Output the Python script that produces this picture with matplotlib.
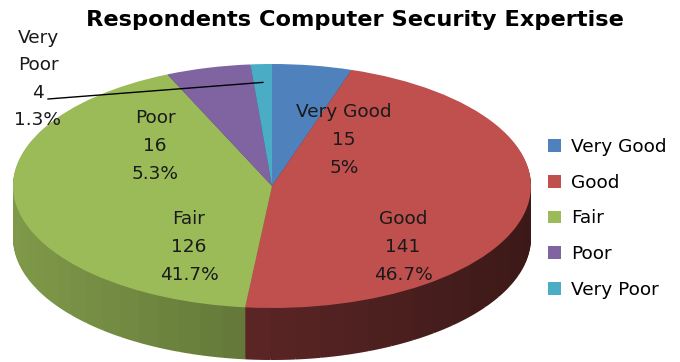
import matplotlib
matplotlib.use("Agg")
import matplotlib.pyplot as plt
import numpy as np
from matplotlib.patches import Patch

# Survey results
categories = ["Very Good", "Good", "Fair", "Poor", "Very Poor"]
counts = [15, 141, 126, 16, 4]
percent_labels = ["5%", "46.7%", "41.7%", "5.3%", "1.3%"]
colors = ["#4F81BD", "#C0504D", "#9BBB59", "#8064A2", "#4BACC6"]
side_strength = [0.9, 0.74, 1.0, 0.9, 0.9]

title = "Respondents Computer Security Expertise"

W, H = 680, 362
fig = plt.figure(figsize=(W / 100, H / 100), dpi=100)
ax = fig.add_axes([0, 0, 1, 1])
ax.set_axis_off()

# pie geometry (pixels): centre, horizontal radius, vertical radius, wall depth
cx, cy = 272, 186
rx, ry = 259, 122
depth = 52
squash = ry / rx


def ydata(py):
    """Pixel row (from top) to data y in the squashed axes."""
    return (H - py) / squash


def fig_xy(px, py):
    return px / W, 1 - py / H


# split every slice into thin sub-wedges so the wall can be shaded by angle
n_sub = 30
sub_vals, sub_cols = [], []
total = float(sum(counts))
start = 0.0
for v, c, k in zip(counts, colors, side_strength):
    base = np.array(matplotlib.colors.to_rgb(c))
    for j in range(n_sub):
        frac0 = start + v * (j + 0.5) / n_sub
        theta = 2 * np.pi * frac0 / total  # clockwise from 12 o'clock
        x = np.sin(theta)
        f = (0.62 - 0.2 * x) * k
        sub_vals.append(v / n_sub)
        sub_cols.append(np.clip(base * f, 0, 1))
    start += v

for d in range(depth, 0, -1):
    ax.pie(sub_vals, colors=sub_cols, startangle=90, counterclock=False,
           radius=rx, center=(cx, ydata(cy + d)), frame=True,
           wedgeprops=dict(linewidth=0.6, edgecolor="none", antialiased=True))

# top face
wedges, _ = ax.pie(counts, colors=colors, startangle=90, counterclock=False,
                   radius=rx, center=(cx, ydata(cy)), frame=True,
                   wedgeprops=dict(linewidth=0))

ax.set_xlim(0, W)
ax.set_ylim(0, H / squash)
ax.set_aspect("auto")
ax.set_axis_off()

# title
fig.text(*fig_xy(355, 20), title, ha="center", va="center",
         fontsize=16.2, fontweight="bold", color="black")

LABEL_FS = 13.3
LABEL_LS = 1.68

# data labels
label_pos = {
    "Very Good": (344, 140),
    "Good": (403, 247),
    "Fair": (189, 247),
    "Poor": (155, 146),
}
for name, v, p in zip(categories, counts, percent_labels):
    if name in label_pos:
        fig.text(*fig_xy(*label_pos[name]), f"{name}\n{v}\n{p}",
                 ha="center", va="center", fontsize=LABEL_FS,
                 linespacing=LABEL_LS, color="#1a1a1a")

# "Very Poor" label with leader line into its slice
vp = categories.index("Very Poor")
mid = (sum(counts[:vp]) + counts[vp] / 2) / total * 2 * np.pi
tip_x = cx + 0.85 * rx * np.sin(mid)
tip_y = cy - 0.85 * ry * np.cos(mid)
ax.plot([48, tip_x], [ydata(99), ydata(tip_y)], color="black", lw=1.0)
vp_text = categories[vp].replace(" ", "\n")
fig.text(*fig_xy(38, 79), f"{vp_text}\n{counts[vp]}\n{percent_labels[vp]}",
         ha="center", va="center", fontsize=LABEL_FS, linespacing=LABEL_LS,
         color="#1a1a1a")

# legend
handles = [Patch(facecolor=c, edgecolor="none") for c in colors]
leg = fig.legend(handles, categories, loc="upper left",
                 bbox_to_anchor=fig_xy(541, 131), frameon=False,
                 fontsize=LABEL_FS, handlelength=0.7, handleheight=0.7,
                 handletextpad=0.55, labelspacing=0.95, borderaxespad=0)

fig.savefig("out.png", dpi=100, facecolor="white")
